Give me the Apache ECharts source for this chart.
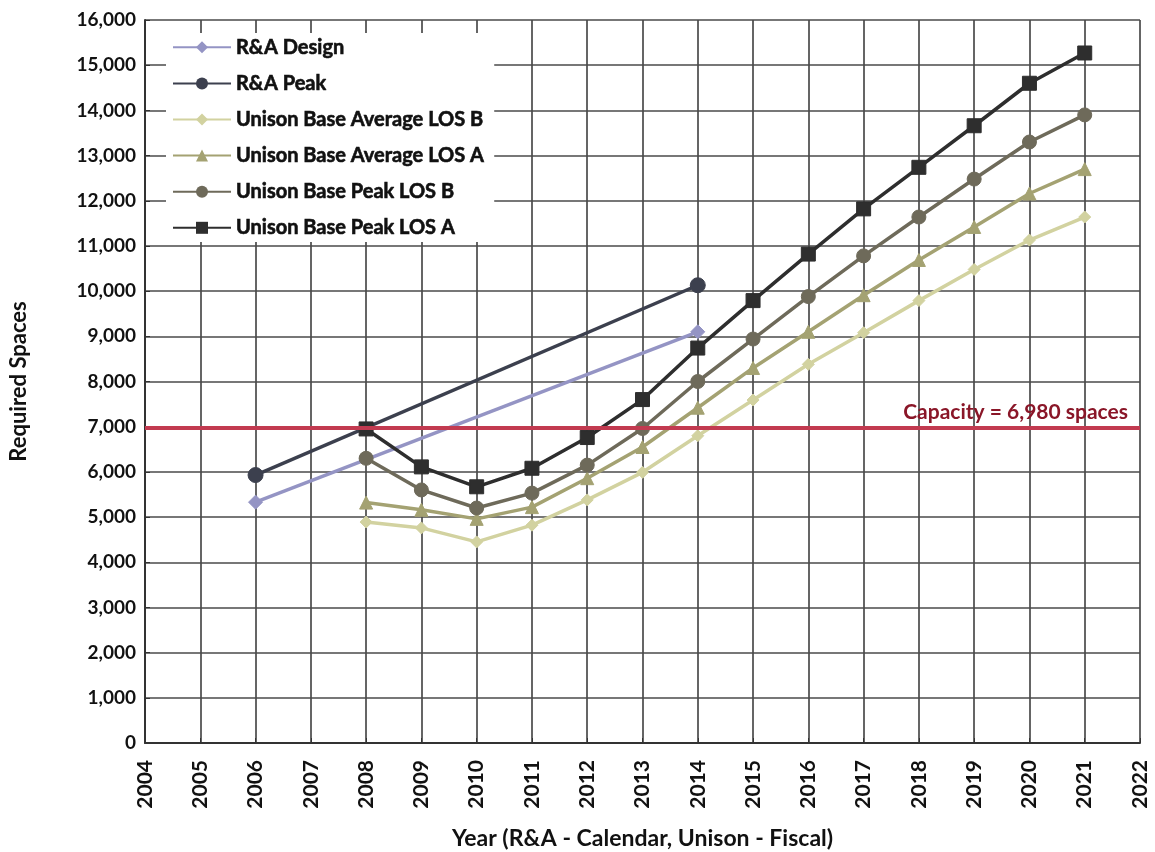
<!DOCTYPE html>
<html><head><meta charset="utf-8">
<script src="https://cdn.jsdelivr.net/npm/echarts@6/dist/echarts.min.js"></script>
<style>html,body{margin:0;padding:0;background:#fff}#c{width:1155px;height:852px}</style>
</head><body><div id="c"></div>
<script>
const raYears = [2006, 2014];
const raDesign = [5330, 9100];
const raPeak = [5930, 10130];
const unisonYears = [2008,2009,2010,2011,2012,2013,2014,2015,2016,2017,2018,2019,2020,2021];
const avgLosB = [4890,4760,4450,4820,5380,5990,6800,7590,8380,9080,9790,10480,11130,11640];
const avgLosA = [5320,5160,4960,5220,5860,6550,7420,8300,9100,9910,10690,11420,12160,12700];
const peakLosB = [6300,5600,5200,5530,6150,6960,8000,8940,9880,10780,11640,12480,13300,13900];
const peakLosA = [6950,6110,5670,6080,6760,7600,8740,9790,10820,11820,12740,13660,14600,15270];
const capacity = 6980;
const capacityLabel = 'Capacity = 6,980 spaces';
const seriesNames = ['R&A Design','R&A Peak','Unison Base Average LOS B','Unison Base Average LOS A','Unison Base Peak LOS B','Unison Base Peak LOS A'];

const pair = (xs, ys) => xs.map((x, i) => [x, ys[i]]);
const FONT = 'Lato';
const legendText = {fontFamily:FONT, fontWeight:'bold', fontSize:20, color:'#111', lineHeight:20,
  textBorderColor:'#111', textBorderWidth:0.6};
function ser(name, xs, ys, color, symbol, size) {
  return {name, type:'line', data: pair(xs, ys), symbol, symbolSize:size,
    lineStyle:{color, width:3.5}, itemStyle:{color, borderColor:color}, z:3};
}
const option = {
  backgroundColor:'#fff',
  animation:false,
  textStyle:{fontFamily:FONT, fontWeight:'bold'},
  grid:{left:145, right:15, top:20, bottom:109, outerBoundsMode:'none', containLabel:false},
  legend:{
    data: seriesNames,
    orient:'vertical', left:166, top:33,
    itemWidth:58, itemHeight:15, itemGap:15.5,
    backgroundColor:'#fff', padding:[4,10,4,6],
    textStyle:legendText
  },
  xAxis:{
    type:'value', min:2004, max:2022, interval:1,
    name:'Year (R&A - Calendar, Unison - Fiscal)', nameLocation:'middle', nameGap:84,
    nameTextStyle:{fontFamily:FONT, fontWeight:700, fontSize:23, color:'#111'},
    axisLabel:{rotate:90, fontFamily:FONT, fontWeight:700, fontSize:21, color:'#111', formatter:v=>String(v), margin:17},
    axisLine:{show:true, lineStyle:{color:'#333', width:2}},
    axisTick:{show:true, inside:true, length:5, lineStyle:{color:'#333'}},
    splitLine:{show:true, lineStyle:{color:'#4a4a4a', width:1.7}}
  },
  yAxis:{
    type:'value', min:0, max:16000, interval:1000,
    name:'Required Spaces', nameLocation:'middle', nameGap:115,
    nameTextStyle:{fontFamily:FONT, fontWeight:700, fontSize:22, color:'#111'},
    axisLabel:{fontFamily:FONT, fontWeight:700, fontSize:19, color:'#111', margin:9,
      formatter:v=>v.toLocaleString('en-US')},
    axisLine:{show:true, lineStyle:{color:'#333', width:2}},
    axisTick:{show:true, inside:true, length:5, lineStyle:{color:'#333'}},
    splitLine:{show:true, lineStyle:{color:'#4a4a4a', width:1.7}}
  },
  series:[
    {name:'capacity', type:'line', data:[], z:2,
     markLine:{symbol:'none', silent:true, data:[{yAxis:capacity}],
       lineStyle:{color:'#c23a50', width:4, type:'solid'},
       label:{position:'insideEndTop', formatter:capacityLabel, color:'#8a1628',
         fontFamily:FONT, fontWeight:700, fontSize:21, distance:[12,5]}}},
    ser(seriesNames[0], raYears, raDesign, '#9494c4', 'diamond', 14),
    ser(seriesNames[1], raYears, raPeak, '#3c404e', 'circle', 15),
    ser(seriesNames[2], unisonYears, avgLosB, '#d2d2a0', 'diamond', 12),
    ser(seriesNames[3], unisonYears, avgLosA, '#a4a272', 'triangle', 13),
    ser(seriesNames[4], unisonYears, peakLosB, '#6e6a5a', 'circle', 14),
    ser(seriesNames[5], unisonYears, peakLosA, '#2e2e2e', 'rect', 14)
  ]
};
const chart = echarts.init(document.getElementById('c'), null, {renderer:'canvas'});
chart.setOption(option);
</script></body></html>
